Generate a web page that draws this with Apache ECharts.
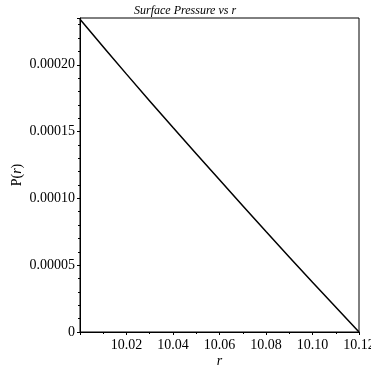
<!DOCTYPE html>
<html>
<head>
<meta charset="utf-8">
<style>
  html, body { margin: 0; padding: 0; background: #fff; }
  #chart { width: 371px; height: 371px; }
</style>
<script src="https://cdn.jsdelivr.net/npm/echarts@6/dist/echarts.min.js"></script>
</head>
<body>
<div id="chart"></div>
<script>
// Surface pressure P(r) against radius r
const radius = [10.00, 10.02, 10.04, 10.06, 10.08, 10.10, 10.12];
const pressure = [0.000234, 0.000193, 0.000153, 0.000114, 0.0000752, 0.0000373, 0.0];
const xTicks = [10.02, 10.04, 10.06, 10.08, 10.10, 10.12];
const yTicks = [0, 0.00005, 0.00010, 0.00015, 0.00020];

const serif = '"Liberation Serif", "DejaVu Serif", serif';
const chart = echarts.init(document.getElementById('chart'), null, { renderer: 'canvas' });

chart.setOption({
  animation: false,
  backgroundColor: '#fff',
  title: {
    text: 'Surface Pressure vs r',
    left: 129,
    top: 0,
    textStyle: { fontFamily: serif, fontStyle: 'italic', fontWeight: 'normal', fontSize: 12, color: '#000' }
  },
  grid: {
    left: 80, right: 12, top: 18, bottom: 39,
    outerBoundsMode: 'none',
    containLabel: false,
    show: true, borderColor: '#000', borderWidth: 1, backgroundColor: 'transparent'
  },
  xAxis: {
    type: 'value',
    min: 10.00,
    max: 10.12,
    interval: 0.02,
    name: 'r',
    nameLocation: 'middle',
    nameGap: 22,
    nameMoveOverlap: false,
    nameTextStyle: { fontFamily: serif, fontStyle: 'italic', fontSize: 14, color: '#000' },
    axisLine: { show: true, lineStyle: { color: '#000', width: 1 } },
    axisTick: { show: true, length: 3, lineStyle: { color: '#000' } },
    minorTick: { show: true, splitNumber: 2, length: 2, lineStyle: { color: '#000' } },
    splitLine: { show: false },
    axisLabel: {
      fontFamily: serif, fontSize: 14, color: '#000', margin: 6,
      formatter: function (v) {
        const hit = xTicks.find(t => Math.abs(t - v) < 1e-9);
        return hit === undefined ? '' : hit.toFixed(2);
      }
    }
  },
  yAxis: {
    type: 'value',
    min: 0,
    max: 0.000235,
    interval: 0.00005,
    name: '{n|P(}{i|r}{n|)}',
    nameLocation: 'middle',
    nameRotate: 90,
    nameGap: 56,
    nameMoveOverlap: false,
    nameTextStyle: {
      rich: {
        n: { fontFamily: serif, fontSize: 14, color: '#000' },
        i: { fontFamily: serif, fontSize: 14, fontStyle: 'italic', color: '#000' }
      }
    },
    axisLine: { show: true, lineStyle: { color: '#000', width: 1 } },
    axisTick: { show: true, length: 3, lineStyle: { color: '#000' } },
    minorTick: { show: true, splitNumber: 5, length: 2, lineStyle: { color: '#000' } },
    splitLine: { show: false },
    axisLabel: {
      fontFamily: serif, fontSize: 14, color: '#000', margin: 5,
      showMaxLabel: false,
      formatter: function (v) {
        const hit = yTicks.find(t => Math.abs(t - v) < 1e-12);
        if (hit === undefined) return '';
        return hit === 0 ? '0' : hit.toFixed(5);
      }
    }
  },
  series: [{
    type: 'line',
    data: radius.map((r, i) => [r, pressure[i]]),
    smooth: 0.3,
    showSymbol: false,
    lineStyle: { color: '#000', width: 1.5 },
    clip: false
  }]
});
</script>
</body>
</html>
